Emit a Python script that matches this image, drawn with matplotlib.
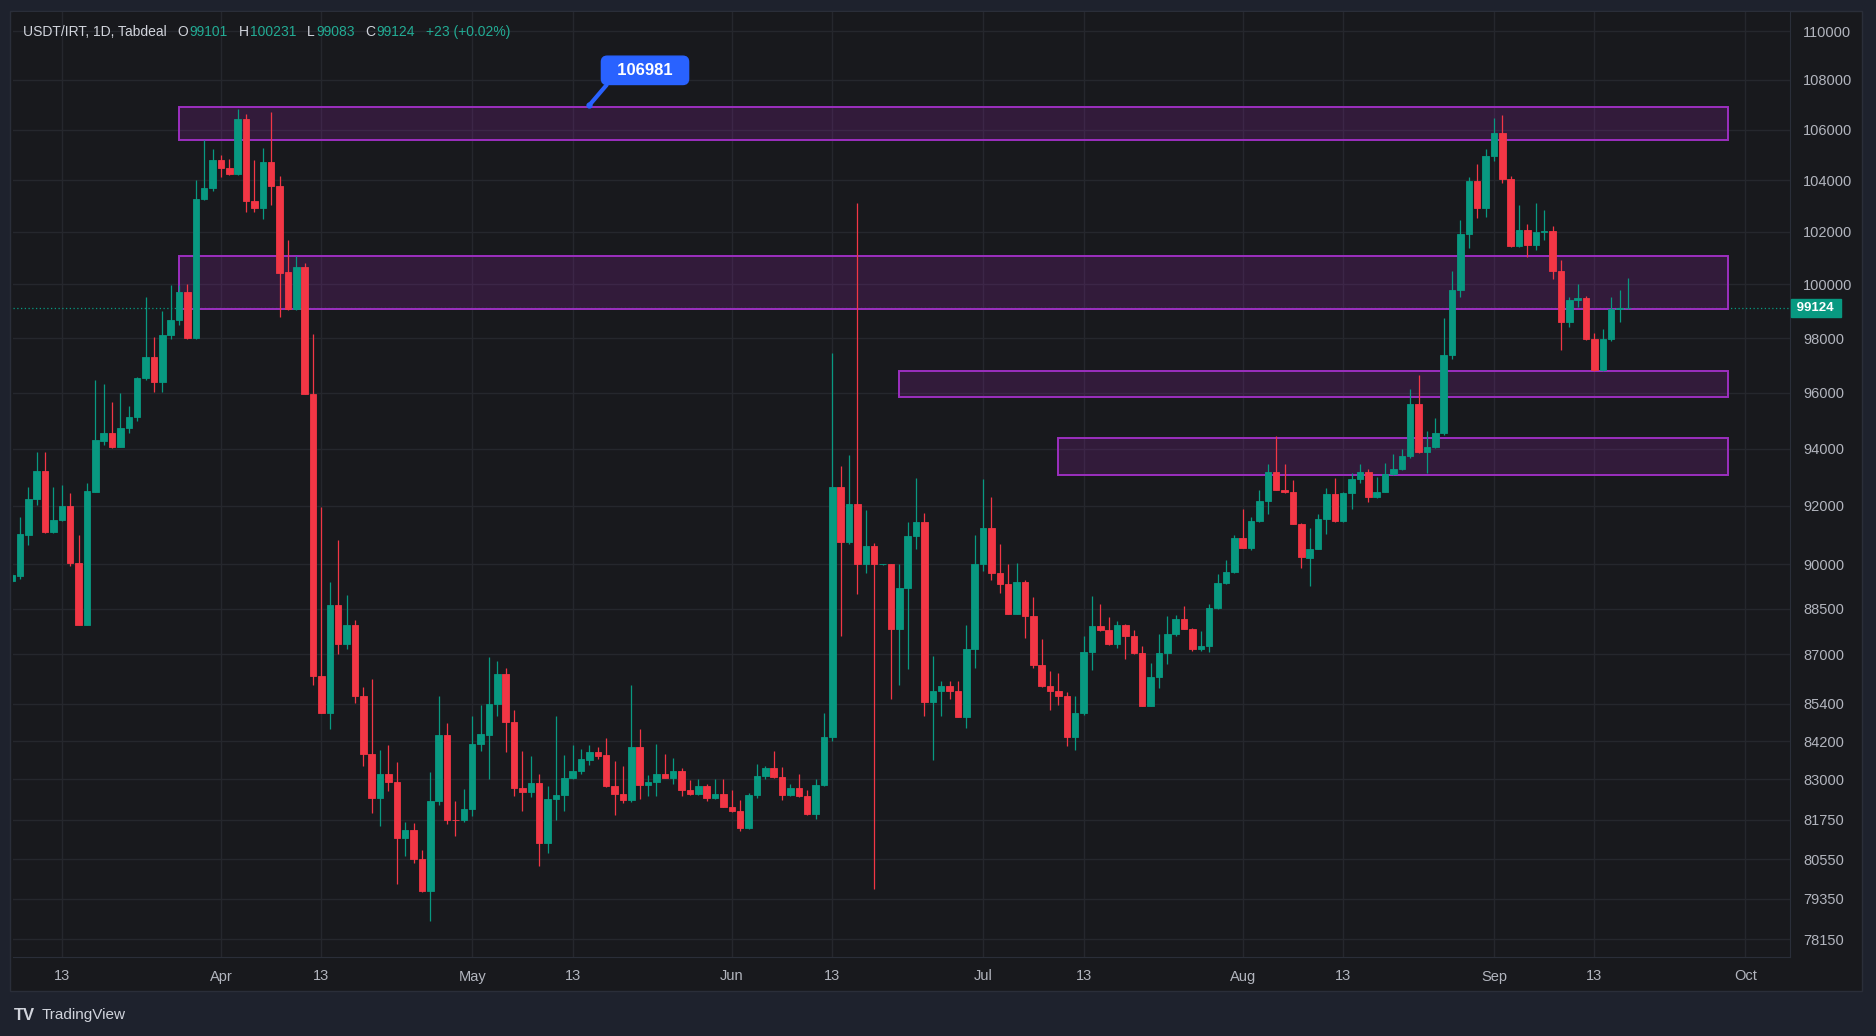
import numpy as np
import pandas as pd
import matplotlib
matplotlib.use('Agg')
import matplotlib.pyplot as plt
from matplotlib.patches import Rectangle
from matplotlib.ticker import FixedLocator, NullLocator, FuncFormatter

plt.rcParams['font.family'] = ['Liberation Sans', 'DejaVu Sans']

GREEN = '#089981'
RED = '#f23645'
BG = '#18191d'
OUTER = '#1e222d'
TXT = '#b2b5be'

# daily bars Mar 7 .. Sep 17 2025, the feed has one day without a bar
missing_day = '2025-08-24'
dates = [d for d in pd.date_range('2025-03-07', '2025-09-17') if d != pd.Timestamp(missing_day)]

opens = [
    89430, 89600, 91000, 92250, 93220, 91100, 91500, 92000, 90060, 87980, 92500, 94280, 94550, 94080, 94740, 95130,
    96540, 97320, 96410, 98120, 98680, 99720, 97990, 103280, 103700,
    104780, 104470, 104240, 106410, 103190, 102920, 104710, 103790, 100470, 99070, 100640, 95950, 86290, 85100, 88620,
    87350, 87970, 85650, 83800, 82430, 83180, 82920, 81180, 81440, 80550, 79580, 82320, 84410, 81750, 81740,
    82090, 84130, 84410, 85400, 86360, 84830, 82740, 82610, 82900, 81030, 82400, 82510, 83060, 83270, 83620, 83860,
    83770, 82790, 82560, 82350, 84020, 82820, 82930, 83170, 83060, 83280, 82660, 82560, 82790, 82430, 82560,
    82160, 82010, 81490, 82510, 83100, 83350, 83080, 82510, 82720, 82490, 81930, 82840, 84340, 92670, 90760, 92070,
    90000, 90630, 90000, 90000, 87830, 89200, 90980, 91460, 85460, 85800, 85960, 85810, 84980, 87180,
    90010, 91250, 89700, 89330, 88330, 89400, 88260, 86670, 85980, 85810, 85650, 84330, 85090, 87070, 87950, 87790,
    87340, 87980, 87610, 87030, 85330, 86250, 87030, 87680, 88180, 87830, 87170, 87280, 88540, 89370, 89740,
    90910, 90570, 91490, 92180, 93190, 92560, 92470, 91380, 90230, 90530, 91540, 92400, 91480, 92440, 92930, 93190,
    92310, 92500, 93100, 93270, 93730, 95580, 93870, 94080, 94550, 97380, 99800, 101900, 103960, 102930, 104930,
    105850, 104060, 101440, 102070, 101480, 102000, 102040, 100520, 98600, 99420, 99490, 97960, 96820, 97960, 99080,
    99101,
]
highs = [
    89700, 91620, 92650, 93870, 93870, 92650, 92740, 92450, 91000, 92800, 96480, 96310, 95670, 96000, 95540, 96580,
    99540, 98050, 99010, 99960, 99990, 100000, 104000, 105580, 105230,
    104980, 104820, 106820, 106610, 104800, 105250, 106710, 104160, 101670, 101090, 100800, 98140, 91950, 89420, 90820,
    88980, 88150, 85940, 86190, 83920, 84080, 83540, 81690, 81650, 80835, 83220, 85640, 84770, 82320, 82700,
    85000, 85370, 86900, 86780, 86570, 85190, 83900, 83740, 83170, 82800, 85000, 83780, 84090, 83950, 84070, 84030,
    84290, 83580, 83420, 86000, 84590, 83140, 84130, 83810, 83670, 83370, 82980, 83030, 82850, 83000, 83000,
    82680, 82360, 82590, 83500, 83430, 83900, 83380, 82870, 83170, 82660, 83000, 85090, 97460, 93380, 93780, 103100,
    91860, 90730, 90020, 90010, 90000, 91460, 92980, 91750, 86950, 86120, 86120, 86120, 87970, 91010,
    92940, 92300, 90680, 90000, 90060, 89480, 88900, 87510, 86460, 86380, 85780, 85640, 87620, 88920, 88680, 88240,
    88110, 88000, 87790, 87260, 86710, 87670, 88260, 88290, 88610, 87860, 87780, 88680, 89660, 90150, 91010,
    91880, 91610, 92560, 93480, 94470, 93480, 92890, 91420, 91250, 91710, 92640, 92980, 92490, 93160, 93480, 93290,
    93010, 93500, 93830, 94000, 96130, 96650, 94630, 95080, 98730, 100490, 102470, 104130, 104650, 105230, 106480,
    106580, 104160, 103030, 102310, 103110, 102830, 102230, 100910, 99520, 100030, 99580, 98190, 98320, 99540, 99800,
    100231,
]
lows = [
    89400, 89520, 90640, 92030, 91080, 91080, 91480, 89940, 87970, 87970, 92480, 94130, 94030, 94050, 94550, 94990,
    96480, 96030, 96030, 97950, 98500, 97980, 97980, 103220, 103580,
    104120, 104200, 104200, 102750, 102750, 102500, 103020, 98770, 99030, 99050, 95940, 86020, 85090, 84590, 87000,
    87180, 85430, 83430, 81950, 81560, 82640, 79810, 80630, 80440, 79560, 78700, 82200, 81620, 81250, 81670,
    81880, 83910, 83030, 85000, 83850, 82490, 82010, 82450, 80330, 80750, 81750, 82010, 83010, 83160, 83460, 83630,
    82770, 81910, 82270, 82300, 82400, 82470, 82470, 83040, 82870, 82500, 82520, 82530, 82330, 82400, 82130,
    81990, 81410, 81480, 82430, 83030, 83060, 82370, 82470, 82460, 81900, 81770, 82800, 84200, 87590, 90680, 89000,
    89700, 79650, 89990, 85540, 86000, 86530, 90520, 85000, 83610, 85000, 85540, 84960, 84630, 86540,
    89780, 89460, 89030, 88320, 88320, 87530, 86540, 85940, 85210, 85350, 84040, 83940, 85030, 86490, 87760, 87320,
    87200, 86840, 87000, 85320, 85320, 85910, 86700, 87620, 87820, 87120, 87120, 87080, 88490, 89320, 89690,
    90550, 90500, 91460, 91710, 92540, 92450, 91360, 89860, 89280, 90510, 91020, 91460, 91440, 91880, 92810, 92120,
    92290, 92480, 93080, 93250, 93680, 93860, 93160, 94040, 94500, 97220, 99520, 101380, 102510, 102560, 104770,
    103870, 101420, 101420, 101050, 101300, 101690, 100210, 97560, 98400, 99140, 97940, 96800, 96800, 97900, 98600,
    99083,
]
closes = [
    89640, 91050, 92250, 93220, 91100, 91510, 92000, 90060, 87980, 92520, 94300, 94550, 94080, 94740, 95130, 96540,
    97320, 96410, 98120, 98680, 99720, 97990, 103280, 103700, 104780,
    104470, 104240, 106410, 103190, 102920, 104710, 103790, 100430, 99070, 100640, 95950, 86290, 85100, 88620, 87350,
    87970, 85650, 83800, 82430, 83180, 82920, 81180, 81440, 80550, 79580, 82320, 84410, 81750, 81740, 82090,
    84130, 84440, 85400, 86360, 84830, 82740, 82610, 82900, 81030, 82400, 82510, 83060, 83270, 83650, 83860, 83740,
    82790, 82560, 82350, 84020, 82820, 82930, 83170, 83060, 83280, 82660, 82560, 82790, 82430, 82560, 82160,
    82010, 81490, 82510, 83100, 83350, 83080, 82510, 82720, 82490, 81930, 82840, 84340, 92670, 90760, 92070, 90000,
    90630, 90000, 90020, 87830, 89200, 90980, 91460, 85460, 85800, 85960, 85810, 84980, 87180, 90010,
    91250, 89700, 89330, 88330, 89400, 88260, 86670, 85980, 85810, 85650, 84330, 85090, 87070, 87950, 87790, 87340,
    87980, 87610, 87030, 85330, 86250, 87030, 87680, 88180, 87830, 87170, 87280, 88540, 89370, 89740, 90910,
    90570, 91490, 92180, 93190, 92560, 92470, 91380, 90240, 90530, 91540, 92400, 91480, 92440, 92930, 93190, 92310,
    92500, 93100, 93270, 93730, 95580, 93870, 94080, 94550, 97380, 99800, 101900, 103960, 102930, 104930, 105850,
    104060, 101440, 102070, 101480, 102000, 102040, 100520, 98600, 99420, 99490, 97960, 96820, 97960, 99080, 99101,
    99124,
]

# zones drawn on the chart: (start day, top, bottom), all run to the same end day
zone_starts = ['2025-03-27', '2025-03-27', '2025-06-21', '2025-07-10']
zone_tops = [106900, 101060, 96780, 94380]
zone_bottoms = [105600, 99070, 95850, 93090]
zone_end = '2025-09-29'

callout_day = '2025-05-15'
callout_price = 106981
last_price = 99124

price_ticks = [110000, 108000, 106000, 104000, 102000, 100000, 98000, 96000, 94000, 92000, 90000,
               88500, 87000, 85400, 84200, 83000, 81750, 80550, 79350, 78150]
time_ticks = ['2025-03-13', '2025-04-01', '2025-04-13', '2025-05-01', '2025-05-13', '2025-06-01', '2025-06-13',
              '2025-07-01', '2025-07-13', '2025-08-01', '2025-08-13', '2025-09-01', '2025-09-13', '2025-10-01']
time_labels = ['13', 'Apr', '13', 'May', '13', 'Jun', '13', 'Jul', '13', 'Aug', '13', 'Sep', '13', 'Oct']


def bar_pos(day):
    t = pd.Timestamp(day)
    if t <= dates[-1]:
        return dates.index(t)
    return len(dates) - 1 + (t - dates[-1]).days  # future bars, one per day


W, H = 1876, 1036
fig = plt.figure(figsize=(W / 100, H / 100), dpi=100, facecolor=OUTER)

# chart panel
fig.patches.append(Rectangle((10 / W, 45 / H), 1852 / W, 980 / H, transform=fig.transFigure,
                             facecolor=BG, edgecolor='#2a2e39', linewidth=1, zorder=-10))

ax = fig.add_axes([13 / W, 79 / H, 1777 / W, 945 / H], facecolor=BG)
ax.set_zorder(1)

o = np.array(opens, dtype=float)
h = np.array(highs, dtype=float)
l = np.array(lows, dtype=float)
c = np.array(closes, dtype=float)
x = np.arange(len(dates))
cols = np.where(c >= o, GREEN, RED)

ax.vlines(x, l, h, colors=cols, linewidth=0.9, zorder=3)
lo_b = np.minimum(o, c)
hi_b = np.maximum(o, c)
ax.bar(x, hi_b - lo_b, width=0.78, bottom=lo_b, color=cols, edgecolor=cols, linewidth=0.6, zorder=4)

# zones
x_end = bar_pos(zone_end)
for s, top, bot in zip(zone_starts, zone_tops, zone_bottoms):
    x0 = bar_pos(s)
    ax.add_patch(Rectangle((x0, bot), x_end - x0, top - bot, facecolor=(0.61, 0.15, 0.69, 0.2),
                           edgecolor='#9c2fc0', linewidth=1.4, zorder=2))

# last price line + tag
ax.axhline(last_price, color=GREEN, linestyle=(0, (1, 2)), linewidth=0.9, zorder=1)
ax.annotate(' %d ' % last_price, xy=(1, last_price), xycoords=('axes fraction', 'data'),
            xytext=(2.5, 0), textcoords='offset points', ha='left', va='center',
            color='white', fontsize=9.5, fontweight='bold', annotation_clip=False,
            bbox=dict(boxstyle='square,pad=0.22', fc=GREEN, ec=GREEN))

# price callout
cx = bar_pos(callout_day)
ax.annotate('  %d  ' % callout_price, xy=(cx, callout_price), xytext=(40, 25), textcoords='offset points',
            ha='center', va='center', color='white', fontsize=12, fontweight='bold', zorder=6,
            bbox=dict(boxstyle='round,pad=0.4,rounding_size=0.35', fc='#2962ff', ec='#2962ff'),
            arrowprops=dict(arrowstyle='-', color='#2962ff', lw=3, shrinkA=0, shrinkB=0, relpos=(0.08, 0.1)))
ax.plot([cx], [callout_price], 'o', color='#2962ff', markersize=3.5, zorder=6)

# axes
ax.set_yscale('log')
ax.set_ylim(77636, 110794)
ax.set_xlim(0.17, 212.35)
ax.yaxis.set_major_locator(FixedLocator(price_ticks))
ax.yaxis.set_minor_locator(NullLocator())
ax.yaxis.set_major_formatter(FuncFormatter(lambda v, p: '%d' % round(v)))
ax.yaxis.tick_right()
ax.set_xticks([bar_pos(d) for d in time_ticks])
ax.set_xticklabels(time_labels)
ax.tick_params(axis='y', length=0, pad=9.5, labelsize=10.5, labelcolor=TXT)
ax.tick_params(axis='x', length=0, pad=9, labelsize=10.5, labelcolor=TXT)
ax.grid(True, color='#25272d', linewidth=1, zorder=0)
ax.set_axisbelow(True)
for side in ['top', 'left']:
    ax.spines[side].set_visible(False)
for side in ['right', 'bottom']:
    ax.spines[side].set_color('#2a2e39')

# header line, pieces laid out one after another
renderer = fig.canvas.get_renderer()
hy = 1 - 32 / H
pieces = [('USDT/IRT, 1D, Tabdeal', '#d1d4dc', 11), ('O', '#d1d4dc', 1), ('99101', '#22ab94', 11),
          ('H', '#d1d4dc', 1), ('100231', '#22ab94', 11), ('L', '#d1d4dc', 1), ('99083', '#22ab94', 11),
          ('C', '#d1d4dc', 1), ('99124', '#22ab94', 11), ('+23 (+0.02%)', '#22ab94', 0)]
xpos = 23
for s, col, gap in pieces:
    t = fig.text(xpos / W, hy, s, color=col, fontsize=10, ha='left', va='center')
    xpos = t.get_window_extent(renderer=renderer).x1 + gap

# footer
fig.text(14 / W, 21 / H, 'TV', color='#d1d4dc', fontsize=12, fontweight='bold', ha='left', va='center')
fig.text(42 / W, 21 / H, 'TradingView', color='#d1d4dc', fontsize=11, ha='left', va='center')

fig.savefig('out.png', dpi=100, facecolor=OUTER)
